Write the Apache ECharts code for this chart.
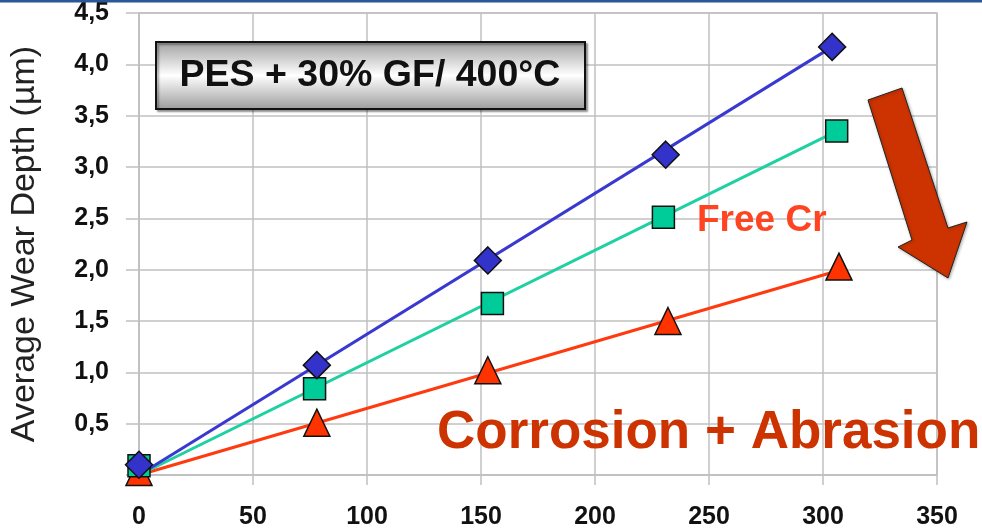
<!DOCTYPE html>
<html>
<head>
<meta charset="utf-8">
<script src="https://cdn.jsdelivr.net/npm/echarts@6/dist/echarts.min.js"></script>
<style>html,body{margin:0;padding:0;background:#fff;}#c{width:982px;height:530px;}</style>
</head>
<body>
<div id="c"></div>
<script>
// ---- data ----
const blueX = [0, 78, 153, 231, 304];
const blueY = [0.10, 1.07, 2.09, 3.12, 4.17];
const greenX = [0, 77, 155, 230, 306];
const greenY = [0.09, 0.84, 1.67, 2.51, 3.35];
const redX = [0, 78, 153, 232, 307];
const redY = [0.03, 0.51, 1.02, 1.50, 2.03];
// trend lines (start at origin, end near last point)
const blueTrend = [[0, 0], [304, 4.17]];
const greenTrend = [[0, 0], [306, 3.35]];
const redTrend = [[0, 0], [305, 1.98]];
const yTickLabels = ['', '0,5', '1,0', '1,5', '2,0', '2,5', '3,0', '3,5', '4,0', '4,5'];
const xTickLabels = ['0', '50', '100', '150', '200', '250', '300', '350'];
const boxTitle = 'PES + 30% GF/ 400°C';
const noteFree = 'Free Cr';
const noteMain = 'Corrosion + Abrasion';
const yName = 'Average Wear Depth (µm)';

const zip = (xs, ys) => xs.map((x, i) => [x, ys[i]]);
const FONT = '"Liberation Sans", Arial, sans-serif';
const chart = echarts.init(document.getElementById('c'));
chart.setOption({
  backgroundColor: '#ffffff',
  animation: false,
  grid: { left: 137, right: 45, top: 13, bottom: 53, show: true, borderColor: '#c0c0c0', borderWidth: 1.5 },
  xAxis: {
    type: 'value', min: 0, max: 350, interval: 50,
    axisLine: { show: true, lineStyle: { color: '#c0c0c0', width: 1.5 } },
    axisTick: { show: true, length: 10, lineStyle: { color: '#c0c0c0', width: 1.5 } },
    splitLine: { show: true, lineStyle: { color: '#c0c0c0', width: 1.5 } },
    axisLabel: { margin: 30, color: '#111', fontFamily: FONT, fontWeight: 'bold', fontSize: 25,
      formatter: v => xTickLabels[Math.round(v / 50)] }
  },
  yAxis: {
    type: 'value', min: 0, max: 4.5, interval: 0.5,
    name: yName, nameLocation: 'middle', nameRotate: 90, nameGap: 97,
    nameTextStyle: { color: '#222', fontFamily: FONT, fontSize: 34 },
    axisLine: { show: true, lineStyle: { color: '#c0c0c0', width: 1.5 } },
    axisTick: { show: true, length: 13, lineStyle: { color: '#c0c0c0', width: 1.5 } },
    splitLine: { show: true, lineStyle: { color: '#c0c0c0', width: 1.5 } },
    axisLabel: { margin: 30, color: '#111', fontFamily: FONT, fontWeight: 'bold', fontSize: 25,
      formatter: v => yTickLabels[Math.round(v / 0.5)] }
  },
  series: [
    { type: 'line', data: redTrend, showSymbol: false, symbol: 'none', lineStyle: { color: '#ff3a10', width: 3 }, z: 2 },
    { type: 'line', data: greenTrend, showSymbol: false, symbol: 'none', lineStyle: { color: '#1fd0a0', width: 3 }, z: 2 },
    { type: 'line', data: blueTrend, showSymbol: false, symbol: 'none', lineStyle: { color: '#3939d0', width: 3 }, z: 2 },
    { type: 'scatter', data: zip(redX, redY), symbol: 'triangle', symbolSize: [26, 27], clip: false,
      itemStyle: { color: '#ff3300', borderColor: '#111', borderWidth: 1.5, opacity: 1 }, z: 3 },
    { type: 'scatter', data: zip(greenX, greenY), symbol: 'rect', symbolSize: 22, clip: false,
      itemStyle: { color: '#00cc99', borderColor: '#111', borderWidth: 1.5, opacity: 1 }, z: 4 },
    { type: 'scatter', data: zip(blueX, blueY), symbol: 'diamond', symbolSize: 27, clip: false,
      itemStyle: { color: '#3333cc', borderColor: '#111', borderWidth: 1.5, opacity: 1 }, z: 5 }
  ],
  graphic: [
    { type: 'rect', left: 0, top: 0, shape: { x: 0, y: 0, width: 982, height: 2.5 }, style: { fill: '#2b5797' }, z: 10 },
    { type: 'rect', shape: { x: 156, y: 42, width: 429, height: 67 },
      style: { fill: new echarts.graphic.LinearGradient(0, 0, 0, 1, [
        { offset: 0, color: '#9e9e9e' }, { offset: 0.5, color: '#ffffff' }, { offset: 1, color: '#9a9a9a' }]),
        stroke: '#111', lineWidth: 2, shadowColor: 'rgba(0,0,0,0.35)', shadowOffsetX: 2, shadowOffsetY: 2, shadowBlur: 2 }, z: 10 },
    { type: 'text', x: 370, y: 76, style: { text: boxTitle, fill: '#111', font: 'bold 37.5px ' + FONT, textAlign: 'center', textVerticalAlign: 'middle' }, z: 11 },
    { type: 'text', x: 697, y: 221, style: { text: noteFree, fill: '#ff4422', font: 'bold 37px ' + FONT, textAlign: 'left', textVerticalAlign: 'middle' }, z: 11 },
    { type: 'text', x: 437, y: 433, style: { text: noteMain, fill: '#cc3300', font: 'bold 53px ' + FONT, textAlign: 'left', textVerticalAlign: 'middle' }, z: 11 },
    { type: 'polygon', shape: { points: [[868, 100], [902, 88], [948, 228], [967, 222], [948, 278], [898, 247], [912, 240]] },
      style: { fill: '#cc3300', stroke: '#222', lineWidth: 1, shadowColor: 'rgba(0,0,0,0.3)', shadowBlur: 3, shadowOffsetX: 1, shadowOffsetY: 1 }, z: 12 }
  ]
});
</script>
</body>
</html>
